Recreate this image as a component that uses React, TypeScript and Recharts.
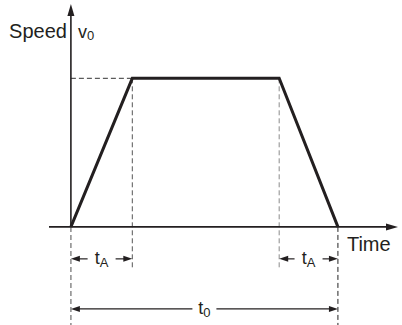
import { LineChart, Line, XAxis, YAxis, ReferenceLine, ReferenceDot } from "recharts";

// trapezoidal speed profile: accel over tA, constant v0, decel over tA
const times = [0, 2.3, 7.8, 10];
const speeds = [0, 1, 1, 0];
const data = times.map((t, i) => ({ time: t, speed: speeds[i] }));

const tA1 = times[1];
const tA2 = times[2];
const t0 = times[3];
const v0 = speeds[1];

const xDomain = [-0.82, 12.25];
const yDomain = [-0.66, 1.5];
const dimTA = -0.215;
const dimT0 = -0.552;
const guideEnd = -0.29;

const INK = "#231f20";
const FONT = "'Liberation Sans', Arial, Helvetica, sans-serif";

function ArrowLine(props: any) {
  const { x1, y1, x2, y2, stroke } = props;
  if (x1 === x2) {
    const top = Math.min(y1, y2);
    const bot = Math.max(y1, y2);
    return (
      <g>
        <line x1={x1} y1={bot} x2={x1} y2={top + 6} stroke={stroke} strokeWidth={1.6} />
        <polygon points={`${x1},${top} ${x1 - 3.5},${top + 12} ${x1 + 3.5},${top + 12}`} fill={stroke} />
      </g>
    );
  }
  return (
    <g>
      <line x1={x1} y1={y1} x2={x2 - 6} y2={y2} stroke={stroke} strokeWidth={1.6} />
      <polygon points={`${x2},${y2} ${x2 - 12},${y2 - 3.5} ${x2 - 12},${y2 + 3.5}`} fill={stroke} />
    </g>
  );
}

function DimLine(props: any) {
  const { x1, y1, x2, text, sub, gap } = props;
  const y = y1;
  const mid = (x1 + x2) / 2;
  return (
    <g>
      <line x1={x1 + 4} y1={y} x2={mid - gap} y2={y} stroke={INK} strokeWidth={1.2} />
      <line x1={mid + gap} y1={y} x2={x2 - 4} y2={y} stroke={INK} strokeWidth={1.2} />
      <polygon points={`${x1},${y} ${x1 + 9},${y - 3} ${x1 + 9},${y + 3}`} fill={INK} />
      <polygon points={`${x2},${y} ${x2 - 9},${y - 3} ${x2 - 9},${y + 3}`} fill={INK} />
      <text x={mid} y={y + 5} textAnchor="middle" fontFamily={FONT} fontSize={18} fill={INK}>
        {text}
        <tspan fontSize={13} dy={3}>{sub}</tspan>
      </text>
    </g>
  );
}

function Label(props: any) {
  const { cx, cy, text, sub, dx, dy, anchor, size } = props;
  return (
    <text x={cx + dx} y={cy + dy} textAnchor={anchor} fontFamily={FONT} fontSize={size} fill={INK}>
      {text}
      {sub ? <tspan fontSize={13} dy={2}>{sub}</tspan> : null}
    </text>
  );
}

export default function App() {
  return (
    <div style={{ position: "absolute", left: 0, top: 0, background: "#fff" }}>
      <LineChart
        width={402}
        height={325}
        data={data}
        margin={{ top: 4, right: 4, bottom: 0, left: 49 }}
      >
        <XAxis dataKey="time" type="number" domain={xDomain} allowDataOverflow hide />
        <YAxis type="number" domain={yDomain} allowDataOverflow hide />

        {/* guide lines */}
        <ReferenceLine segment={[{ x: 0, y: v0 }, { x: tA1, y: v0 }]} stroke="#333" strokeDasharray="5 3" ifOverflow="visible" />
        <ReferenceLine segment={[{ x: tA1, y: v0 }, { x: tA1, y: guideEnd }]} stroke="#555" strokeDasharray="5 3" ifOverflow="visible" />
        <ReferenceLine segment={[{ x: tA2, y: v0 }, { x: tA2, y: guideEnd }]} stroke="#8a8a8a" strokeDasharray="5 3" ifOverflow="visible" />
        <ReferenceLine segment={[{ x: 0, y: 0 }, { x: 0, y: yDomain[0] }]} stroke="#8a8a8a" strokeWidth={1.5} strokeDasharray="5 3" ifOverflow="visible" />
        <ReferenceLine segment={[{ x: t0, y: 0 }, { x: t0, y: yDomain[0] }]} stroke="#222" strokeDasharray="5 3" ifOverflow="visible" />

        {/* axes */}
        <ReferenceLine segment={[{ x: xDomain[0], y: 0 }, { x: xDomain[1], y: 0 }]} stroke={INK} ifOverflow="visible" shape={(p: any) => <ArrowLine {...p} stroke={INK} />} />
        <ReferenceLine segment={[{ x: 0, y: 0 }, { x: 0, y: yDomain[1] }]} stroke={INK} ifOverflow="visible" shape={(p: any) => <ArrowLine {...p} stroke={INK} />} />

        {/* dimension arrows */}
        <ReferenceLine segment={[{ x: 0, y: dimTA }, { x: tA1, y: dimTA }]} ifOverflow="visible" shape={(p: any) => <DimLine {...p} text="t" sub="A" gap={14} />} />
        <ReferenceLine segment={[{ x: tA2, y: dimTA }, { x: t0, y: dimTA }]} ifOverflow="visible" shape={(p: any) => <DimLine {...p} text="t" sub="A" gap={14} />} />
        <ReferenceLine segment={[{ x: 0, y: dimT0 }, { x: t0, y: dimT0 }]} ifOverflow="visible" shape={(p: any) => <DimLine {...p} text="t" sub="0" gap={12} />} />

        {/* labels */}
        <ReferenceDot x={0} y={1.272} r={1} ifOverflow="visible" shape={(p: any) => <Label {...p} text="Speed" dx={-4} dy={0} anchor="end" size={20} />} />
        <ReferenceDot x={0} y={1.272} r={1} ifOverflow="visible" shape={(p: any) => <Label {...p} text="v" sub="0" dx={7} dy={0} anchor="start" size={18} />} />
        <ReferenceDot x={t0} y={0} r={1} ifOverflow="visible" shape={(p: any) => <Label {...p} text="Time" dx={9} dy={24} anchor="start" size={20} />} />

        <Line
          dataKey="speed"
          stroke={INK}
          strokeWidth={3}
          strokeLinejoin="miter"
          dot={false}
          type="linear"
          isAnimationActive={false}
        />
      </LineChart>
    </div>
  );
}
